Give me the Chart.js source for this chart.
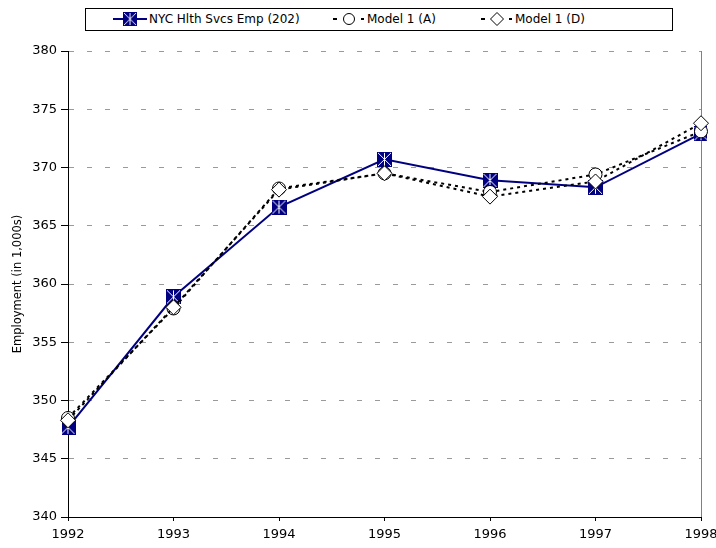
<!DOCTYPE html>
<html>
<head>
<meta charset="utf-8">
<script src="https://cdn.jsdelivr.net/npm/chart.js@4"></script>
<style>
  body { margin: 0; background: #fff; }
  #wrap { position: relative; width: 716px; height: 548px; }
  #legend {
    position: absolute; left: 85px; top: 8px; width: 586px; height: 21px;
    border: 1px solid #000; background: #fff;
    font-family: "DejaVu Sans", sans-serif; font-size: 12px; color: #000;
  }
  .item { position: absolute; top: 0; height: 21px; line-height: 21px; white-space: nowrap; }
  .item canvas { vertical-align: middle; margin-top: -2px; }
</style>
</head>
<body>
<div id="wrap">
  <canvas id="empChart" width="716" height="548"></canvas>
  <div id="legend"></div>
</div>
<script>
// data
const years = ['1992', '1993', '1994', '1995', '1996', '1997', '1998'];
const nycHealth = [347.7, 358.9, 366.6, 370.7, 368.9, 368.3, 372.9];
const model1A = [348.5, 357.9, 368.2, 369.5, 367.9, 369.4, 373.1];
const model1D = [348.3, 358.0, 368.1, 369.5, 367.5, 368.8, 373.8];
const seriesNames = ['NYC Hlth Svcs Emp (202)', 'Model 1 (A)', 'Model 1 (D)'];

const NAVY = '#000080';

// navy square with white spokes
function nycMarker() {
  const c = document.createElement('canvas');
  c.width = 15; c.height = 15;
  const g = c.getContext('2d');
  g.fillStyle = NAVY;
  g.fillRect(0, 0, 15, 15);
  g.strokeStyle = '#fff';
  g.lineWidth = 1;
  g.beginPath();
  g.moveTo(1, 1); g.lineTo(14, 14);
  g.moveTo(14, 1); g.lineTo(1, 14);
  g.moveTo(7.5, 1); g.lineTo(7.5, 14);
  g.stroke();
  return c;
}

// gray line on the right side of the plot area
const rightEdge = {
  id: 'rightEdge',
  beforeDatasetsDraw(chart) {
    const a = chart.chartArea;
    const g = chart.ctx;
    g.save();
    g.strokeStyle = '#808080';
    g.lineWidth = 1;
    g.beginPath();
    g.moveTo(Math.round(a.right) + 0.5, a.top);
    g.lineTo(Math.round(a.right) + 0.5, a.bottom);
    g.stroke();
    g.restore();
  }
};

const ctx = document.getElementById('empChart').getContext('2d');
const empChart = new Chart(ctx, {
  type: 'line',
  data: {
    labels: years,
    datasets: [{
      label: seriesNames[0],
      data: nycHealth,
      borderColor: NAVY,
      borderWidth: 2,
      pointStyle: nycMarker(),
      order: 3
    }, {
      label: seriesNames[1],
      data: model1A,
      borderColor: '#000',
      borderWidth: 2,
      borderDash: [3, 4],
      pointStyle: 'circle',
      pointRadius: 6.5,
      pointBackgroundColor: '#fff',
      pointBorderColor: '#000',
      pointBorderWidth: 1,
      order: 2
    }, {
      label: seriesNames[2],
      data: model1D,
      borderColor: '#000',
      borderWidth: 2,
      borderDash: [3, 4],
      pointStyle: 'rectRot',
      pointRadius: 7.5,
      pointBackgroundColor: '#fff',
      pointBorderColor: '#000',
      pointBorderWidth: 1,
      order: 1
    }]
  },
  options: {
    responsive: false,
    animation: false,
    layout: { padding: { top: 51, right: 15, left: 0, bottom: 0 }, autoPadding: false },
    plugins: { legend: { display: false }, tooltip: { enabled: false } },
    scales: {
      x: {
        offset: false,
        grid: { drawOnChartArea: false, tickLength: 4, tickColor: '#000' },
        border: { color: '#000', width: 1 },
        ticks: { color: '#000', padding: 6, maxRotation: 0,
                 font: { family: 'DejaVu Sans', size: 13 } },
        afterFit: (scale) => {
          scale.height = 31;
          scale.paddingLeft = 0;
          scale.paddingRight = 0;
        }
      },
      y: {
        min: 340, max: 380,
        grid: { color: '#9a9a9a', tickColor: '#000', tickLength: 7, tickBorderDash: [] },
        border: { color: '#000', width: 1, dash: [5, 13] },
        ticks: { stepSize: 5, color: '#000', padding: 4,
                 font: { family: 'DejaVu Sans', size: 13 } },
        title: { display: true, text: 'Employment (in 1,000s)', color: '#000',
                 font: { family: 'DejaVu Sans', size: 11.5 }, padding: { top: 11, bottom: 0 } },
        afterFit: (scale) => {
          scale.width = 68;
          scale.paddingTop = 0;
          scale.paddingBottom = 0;
        }
      }
    }
  },
  plugins: [rightEdge]
});

// legend in a box, line + marker icons
function legendIcon(kind) {
  const c = document.createElement('canvas');
  c.width = 38; c.height = 16;
  const g = c.getContext('2d');
  if (kind === 0) {
    g.strokeStyle = NAVY; g.lineWidth = 2;
    g.beginPath(); g.moveTo(2, 8); g.lineTo(36, 8); g.stroke();
    const m = nycMarker();
    g.drawImage(m, 12, 1, 14, 14);
  } else {
    g.strokeStyle = '#000'; g.lineWidth = 2;
    g.beginPath(); g.moveTo(4, 8); g.lineTo(8, 8); g.moveTo(32, 8); g.lineTo(35, 8); g.stroke();
    g.fillStyle = '#fff'; g.lineWidth = 1;
    g.beginPath();
    if (kind === 1) {
      g.arc(20, 8, 5.5, 0, Math.PI * 2);
    } else {
      g.moveTo(20, 1.5); g.lineTo(26.5, 8); g.lineTo(20, 14.5); g.lineTo(13.5, 8); g.closePath();
    }
    g.fill(); g.stroke();
  }
  return c;
}

const legendLeft = [25, 243, 391];
const legend = document.getElementById('legend');
seriesNames.forEach((name, i) => {
  const item = document.createElement('div');
  item.className = 'item';
  item.style.left = legendLeft[i] + 'px';
  item.appendChild(legendIcon(i));
  const span = document.createElement('span');
  span.textContent = name;
  item.appendChild(span);
  legend.appendChild(item);
});
</script>
</body>
</html>
